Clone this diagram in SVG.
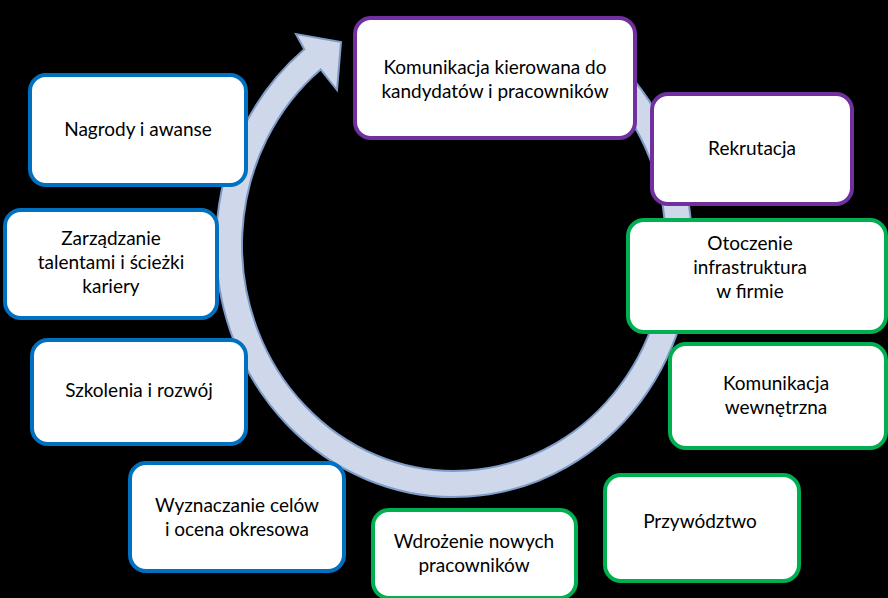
<svg xmlns="http://www.w3.org/2000/svg" width="888" height="598" viewBox="0 0 888 598">
<style>
.b{fill:#fff;stroke-width:4}
.p{stroke:#7030a0}.g{stroke:#00b050}.u{stroke:#0070c0}
text{font-family:Lato,"Liberation Sans",sans-serif;font-size:19px;fill:#000;text-anchor:middle}
</style>
<rect width="888" height="598" fill="#000"/>
<g id="connectors">
<path d="M580.1,31.3 A238,252 0 1 1 304.3,49.2 L296,34 L341,42 L337,90 L320.6,69.4 A212,226 0 1 0 566.4,53.4 Z" fill="#cfd8ea" stroke="#7f9cc8" stroke-width="2"/>
</g>
<g id="n1"><rect class="b p" x="355" y="18" width="280" height="120" rx="16"/><text x="495" y="74">Komunikacja kierowana do</text><text x="495" y="98">kandydatów i pracowników</text></g>
<g id="n2"><rect class="b p" x="652" y="94" width="200" height="110" rx="16"/><text x="752" y="155">Rekrutacja</text></g>
<g id="n3"><rect class="b g" x="628" y="220" width="258" height="112" rx="16"/><text x="750" y="250">Otoczenie</text><text x="750" y="274">infrastruktura</text><text x="750" y="298">w firmie</text></g>
<g id="n4"><rect class="b g" x="670" y="344" width="216" height="104" rx="16"/><text x="776" y="390">Komunikacja</text><text x="776" y="414">wewnętrzna</text></g>
<g id="n5"><rect class="b g" x="605" y="475" width="194" height="106" rx="16"/><text x="700" y="528">Przywództwo</text></g>
<g id="n6"><rect class="b g" x="373" y="510" width="203" height="88" rx="16"/><text x="474" y="548">Wdrożenie nowych</text><text x="474" y="572">pracowników</text></g>
<g id="n7"><rect class="b u" x="130" y="463" width="214" height="108" rx="16"/><text x="237" y="512">Wyznaczanie celów</text><text x="237" y="536">i ocena okresowa</text></g>
<g id="n8"><rect class="b u" x="32" y="340" width="214" height="104" rx="16"/><text x="139" y="397">Szkolenia i rozwój</text></g>
<g id="n9"><rect class="b u" x="5" y="210" width="212" height="108" rx="16"/><text x="111" y="245">Zarządzanie</text><text x="111" y="269">talentami i ścieżki</text><text x="111" y="293">kariery</text></g>
<g id="n10"><rect class="b u" x="30" y="75" width="216" height="110" rx="16"/><text x="138" y="136">Nagrody i awanse</text></g>
</svg>
